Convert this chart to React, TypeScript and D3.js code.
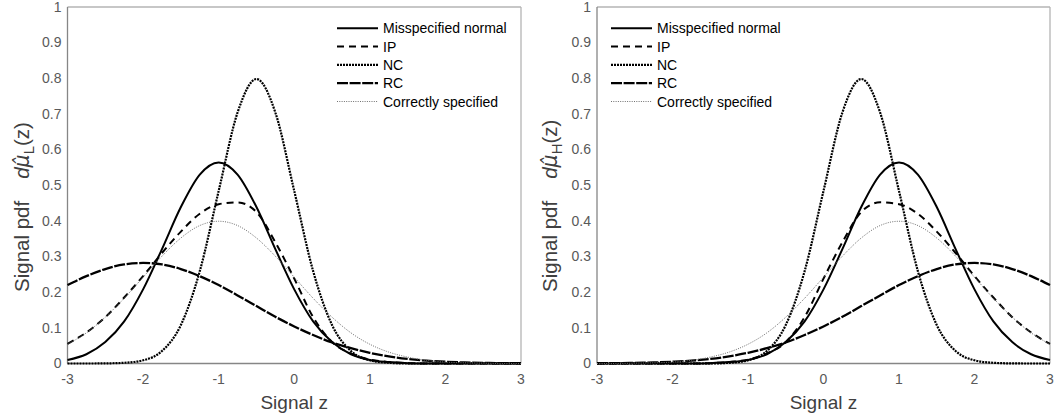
import React from "react";
import { scaleLinear, line, curveMonotoneX } from "d3";

const width = 1056;
const height = 416;

// signal values on the x axis
const zValues = [-3, -2.75, -2.5, -2.25, -2, -1.75, -1.5, -1.25, -1, -0.75, -0.5, -0.25, 0,
    0.25, 0.5, 0.75, 1, 1.25, 1.5, 1.75, 2, 2.25, 2.5, 2.75, 3];

// left panel (L)
const misspecL = [0.010, 0.026, 0.060, 0.118, 0.208, 0.321, 0.439, 0.530, 0.564, 0.530, 0.439, 0.321, 0.208,
    0.118, 0.060, 0.026, 0.010, 0.004, 0.001, 0, 0, 0, 0, 0, 0];
const ipL = [0.055, 0.087, 0.130, 0.185, 0.245, 0.310, 0.370, 0.420, 0.447, 0.452, 0.425, 0.340, 0.238,
    0.130, 0.060, 0.028, 0.011, 0.004, 0.001, 0, 0, 0, 0, 0, 0];
const ncL = [0, 0, 0.0003, 0.002, 0.009, 0.035, 0.108, 0.259, 0.484, 0.704, 0.798, 0.704, 0.484,
    0.259, 0.108, 0.035, 0.009, 0.002, 0, 0, 0, 0, 0, 0, 0];
const rcL = [0.220, 0.245, 0.265, 0.278, 0.282, 0.278, 0.265, 0.245, 0.220, 0.191, 0.161, 0.131, 0.104,
    0.080, 0.059, 0.043, 0.030, 0.020, 0.013, 0.008, 0.005, 0.003, 0.002, 0.001, 0.001];
const correctL = [0.054, 0.086, 0.130, 0.183, 0.242, 0.301, 0.352, 0.387, 0.399, 0.387, 0.352, 0.301, 0.242,
    0.183, 0.130, 0.086, 0.054, 0.032, 0.018, 0.009, 0.004, 0.002, 0.001, 0, 0];

// right panel (H)
const misspecH = [0, 0, 0, 0, 0, 0, 0.001, 0.004, 0.010, 0.026, 0.060, 0.118, 0.208,
    0.321, 0.439, 0.530, 0.564, 0.530, 0.439, 0.321, 0.208, 0.118, 0.060, 0.026, 0.010];
const ipH = [0, 0, 0, 0, 0, 0, 0.001, 0.004, 0.011, 0.028, 0.060, 0.130, 0.238,
    0.340, 0.425, 0.452, 0.447, 0.420, 0.370, 0.310, 0.245, 0.185, 0.130, 0.087, 0.055];
const ncH = [0, 0, 0, 0, 0, 0, 0, 0.002, 0.009, 0.035, 0.108, 0.259, 0.484,
    0.704, 0.798, 0.704, 0.484, 0.259, 0.108, 0.035, 0.009, 0.002, 0.0003, 0, 0];
const rcH = [0.001, 0.001, 0.002, 0.003, 0.005, 0.008, 0.013, 0.020, 0.030, 0.043, 0.059, 0.080, 0.104,
    0.131, 0.161, 0.191, 0.220, 0.245, 0.265, 0.278, 0.282, 0.278, 0.265, 0.245, 0.220];
const correctH = [0, 0, 0.001, 0.002, 0.004, 0.009, 0.018, 0.032, 0.054, 0.086, 0.130, 0.183, 0.242,
    0.301, 0.352, 0.387, 0.399, 0.387, 0.352, 0.301, 0.242, 0.183, 0.130, 0.086, 0.054];

const seriesNames = ["Misspecified normal", "IP", "NC", "RC", "Correctly specified"];

const yTicks = [0, 0.1, 0.2, 0.3, 0.4, 0.5, 0.6, 0.7, 0.8, 0.9, 1];
const yTickLabels = ["0", "0.1", "0.2", "0.3", "0.4", "0.5", "0.6", "0.7", "0.8", "0.9", "1"];
const xTicks = [-3, -2, -1, 0, 1, 2, 3];

const lineStyles = [
    { stroke: "#000", sw: 2, dash: undefined },
    { stroke: "#000", sw: 2, dash: "7,5" },
    { stroke: "#000", sw: 2.2, dash: "2,1" },
    { stroke: "#000", sw: 2.3, dash: "11,1.6" },
    { stroke: "#707070", sw: 1, dash: "1,1.3" },
];

const font = "'Liberation Sans', Arial, sans-serif";
const plotTop = 7;
const plotBottom = 363.5;

type PanelProps = {
    x0: number;
    x1: number;
    series: number[][];
    sub: string;
    titleX: number;
    legendX: number;
};

const Panel = ({ x0, x1, series, sub, titleX, legendX }: PanelProps) => {
    const x = scaleLinear().domain([-3, 3]).range([x0, x1]);
    const y = scaleLinear().domain([0, 1]).range([plotBottom, plotTop]);
    const path = line<number>()
        .x((_, i) => x(zValues[i]))
        .y(d => y(d))
        .curve(curveMonotoneX);
    const titleStart = 292;

    return (
        <g>
            {/* frame */}
            <line x1={x0} x2={x1} y1={plotTop} y2={plotTop} stroke="#b4b4b4" strokeWidth={1.3} />
            <line x1={x1} x2={x1} y1={plotTop} y2={plotBottom} stroke="#b4b4b4" strokeWidth={1.3} />
            <line x1={x0} x2={x0} y1={plotTop} y2={plotBottom} stroke="#868686" strokeWidth={1.3} />
            <line x1={x0} x2={x1} y1={plotBottom} y2={plotBottom} stroke="#868686" strokeWidth={1.3} />

            {yTicks.map((t, i) => (
                <text key={"y" + t} x={x0 - 6} y={y(t) + 4.8} textAnchor="end"
                      fontSize={14} fill="#595959" fontFamily={font}>{yTickLabels[i]}</text>
            ))}
            {xTicks.map(t => (
                <text key={"x" + t} x={x(t)} y={383.5} textAnchor="middle"
                      fontSize={14} fill="#595959" fontFamily={font}>{t}</text>
            ))}

            {series.map((s, i) => (
                <path key={seriesNames[i]} d={path(s) || ""} fill="none"
                      stroke={lineStyles[i].stroke} strokeWidth={lineStyles[i].sw}
                      strokeDasharray={lineStyles[i].dash} />
            ))}

            {/* legend */}
            {seriesNames.map((name, i) => {
                const ly = 28.3 + i * 18.3;
                return (
                    <g key={"lg" + name}>
                        <line x1={legendX} x2={legendX + 41} y1={ly} y2={ly}
                              stroke={lineStyles[i].stroke} strokeWidth={lineStyles[i].sw}
                              strokeDasharray={lineStyles[i].dash} />
                        <text x={legendX + 46} y={ly + 5} fontSize={14} fill="#000"
                              fontFamily={font}>{name}</text>
                    </g>
                );
            })}

            <text x={(x0 + x1) / 2} y={409} textAnchor="middle" fontSize={19}
                  fill="#404040" fontFamily={font}>Signal z</text>

            <text transform={`translate(${titleX},${titleStart}) rotate(-90)`} fontSize={20.5}
                  fill="#404040" fontFamily={font}>
                <tspan>Signal pdf</tspan>
                <tspan dx={22} fontStyle="italic">d</tspan>
                <tspan fontStyle="italic" fontFamily="'DejaVu Sans', sans-serif">{"\u03BC\u0302"}</tspan>
                <tspan fontSize={15} dy={5}>{sub}</tspan>
                <tspan dy={-5}>(z)</tspan>
            </text>
        </g>
    );
};

export default function App() {
    return (
        <svg width={width} height={height} style={{ position: "absolute", left: 0, top: 0, background: "#fff" }}>
            <rect width={width} height={height} fill="#fff" />
            <Panel x0={67.5} x1={521} series={[misspecL, ipL, ncL, rcL, correctL]} sub="L"
                   titleX={29} legendX={337} />
            <Panel x0={597} x1={1050} series={[misspecH, ipH, ncH, rcH, correctH]} sub="H"
                   titleX={557} legendX={611} />
        </svg>
    );
}
